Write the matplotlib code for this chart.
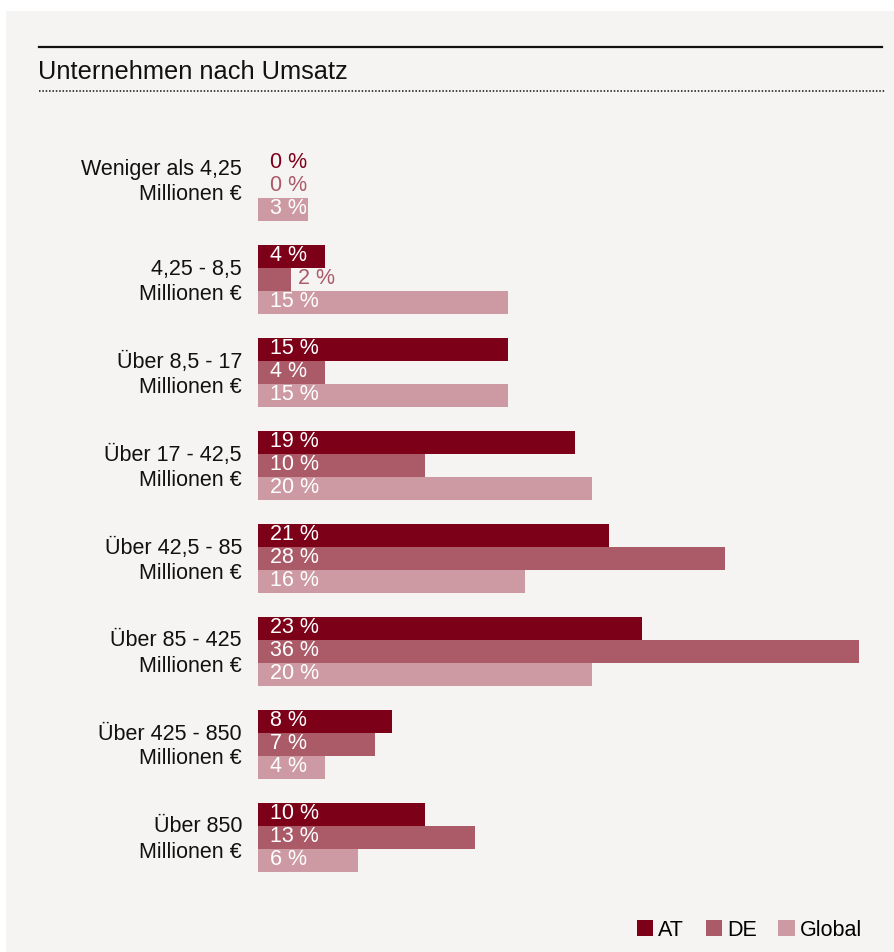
import numpy as np
import matplotlib.pyplot as plt
from matplotlib.patches import Rectangle, Patch

plt.rcParams['font.family'] = ['Liberation Sans', 'DejaVu Sans']

# Umsatzklassen und Anteile in Prozent
categories = [
    "Weniger als 4,25\nMillionen €",
    "4,25 - 8,5\nMillionen €",
    "Über 8,5 - 17\nMillionen €",
    "Über 17 - 42,5\nMillionen €",
    "Über 42,5 - 85\nMillionen €",
    "Über 85 - 425\nMillionen €",
    "Über 425 - 850\nMillionen €",
    "Über 850\nMillionen €",
]
at_values = [0, 4, 15, 19, 21, 23, 8, 10]
de_values = [0, 2, 4, 10, 28, 36, 7, 13]
global_values = [3, 15, 15, 20, 16, 20, 4, 6]
series_names = ["AT", "DE", "Global"]

colors = ["#7d0019", "#ab5a68", "#cd9aa3"]
bg = "#f5f4f2"
W, H = 894, 952

fig = plt.figure(figsize=(W / 100, H / 100), dpi=100)
fig.patch.set_facecolor("white")
fig.patches.append(Rectangle((6 / W, 0), 1 - 6 / W, 1 - 11 / H, transform=fig.transFigure,
                             facecolor=bg, edgecolor="none", zorder=-10))

# Kopfzeile mit Linien
fig.add_artist(plt.Line2D([39 / W, 882 / W], [1 - 47 / H, 1 - 47 / H], color="#111111", lw=1.6))
fig.text(38 / W, 1 - 72 / H, "Unternehmen nach Umsatz", fontsize=18.3, va="center", ha="left",
         color="#111111")
fig.add_artist(plt.Line2D([39 / W, 885 / W], [1 - 91 / H, 1 - 91 / H], color="#111111", lw=1.1,
                          linestyle=(0, (1, 1.2))))

# Balkendiagramm
ax = fig.add_axes([258 / W, (H - 884) / H, 601 / W, 744 / H])
ax.set_facecolor("none")
ax.set_xlim(0, 36)
ax.set_ylim(7.5, -0.5)
ax.axis("off")

y = np.arange(len(categories))
h = 23 / 93
px = 36 / 601  # ein Pixel in Prozentpunkten
for k, (vals, col) in enumerate(zip([at_values, de_values, global_values], colors)):
    ypos = y + (k - 1) * h
    ax.barh(ypos, vals, height=h, color=col, edgecolor="none")
    for yy, v in zip(ypos, vals):
        if v >= 3:
            ax.text(12 * px, yy - 0.01, f"{v} %", color="white", fontsize=15.5,
                    va="center", ha="left")
        else:
            ax.text(max(12 * px, v + 7 * px), yy - 0.01, f"{v} %", color=col, fontsize=15.5,
                    va="center", ha="left")

# Beschriftung der Klassen, erste Gruppe etwas nach oben gerückt
for i, cat in enumerate(categories):
    dy = -5 / 93 if i == 0 else 2 / 93
    ax.text(-16 * px, i + dy, cat, fontsize=15.5, color="#111111", ha="right", va="center",
            multialignment="right", linespacing=1.25, clip_on=False)

handles = [Patch(facecolor=c, edgecolor="none") for c in colors]
fig.legend(handles, series_names, loc="center right", bbox_to_anchor=(873 / W, 1 - 930 / H),
           ncol=3, frameon=False, fontsize=15.5, handlelength=0.75, handleheight=0.75,
           handletextpad=0.25, columnspacing=1.0, borderpad=0)

fig.savefig("out.png", dpi=100, facecolor=fig.get_facecolor())
